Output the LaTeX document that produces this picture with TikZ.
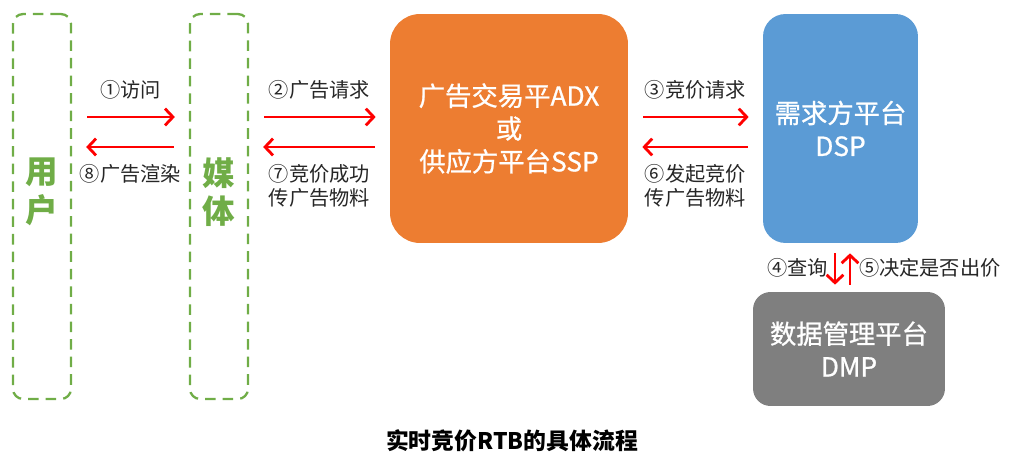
\documentclass[tikz,border=0pt]{standalone}
\usepackage{fontspec}
\setmainfont{Noto Sans CJK SC}
\newfontfamily\boxfont{Noto Sans CJK SC}[FakeBold=0.8]
\usetikzlibrary{arrows.meta}
\definecolor{partygreen}{HTML}{70AD47}
\definecolor{adxorange}{HTML}{ED7D31}
\definecolor{dspblue}{HTML}{5B9BD5}
\definecolor{dmpgray}{HTML}{7F7F7F}
\definecolor{tiptext}{HTML}{262626}
\tikzset{
    party/.style={draw=partygreen, line width=1.3pt, dash pattern=on 6pt off 4pt,
        rounded corners=0.2cm, minimum width=1.16cm, minimum height=7.7cm},
    partyname/.style={text=partygreen, align=center, font=\bfseries\fontsize{18.5}{22}\selectfont},
    platform/.style={text=white, align=center, font=\boxfont\fontsize{15}{18.7}\selectfont},
    flow/.style={red, line width=1.6pt, -{Straight Barb[length=4.5pt,width=9.5pt]}},
    hflow/.style={flow, shorten <=0.3cm, shorten >=0.28cm},
    vflow/.style={flow, shorten <=0.2cm, shorten >=0.14cm},
    rvflow/.style={flow, shorten <=0.14cm, shorten >=0.2cm},
    tip/.style={text=tiptext, align=center, font=\fontsize{11.5}{13.6}\selectfont}
}
\begin{document}
\begin{tikzpicture}[x=0.02cm, y=-0.02cm]
    \useasboundingbox (0,0) rectangle (1024,473);
    \node[party] (user) at (42,206.5) {};
    \node[party] (media) at (219,206.5) {};
    \node[partyname] (username) at (42,192) {用\\户};
    \node[partyname] (medianame) at (219,192) {媒\\体};
    \node[platform, fill=adxorange, rounded corners=0.6cm,
        minimum width=4.76cm, minimum height=4.58cm] (adx) at (509,128.5) {广告交易平ADX\\或\\供应方平台SSP};
    \node[platform, fill=dspblue, rounded corners=0.45cm,
        minimum width=3.1cm, minimum height=4.58cm] (dsp) at (840.5,128.5) {需求方平台\\DSP};
    \node[platform, fill=dmpgray, rounded corners=0.35cm,
        minimum width=3.84cm, minimum height=2.28cm] (dmp) at (849,349) {数据管理平台\\DMP};
    \coordinate (fwd) at (0,117);
    \coordinate (back) at (0,147);
    \coordinate (ask) at (835,0);
    \coordinate (answer) at (850,0);
    \draw[hflow] (user.east |- fwd) -- node[tip, above=6pt] {①访问} (media.west |- fwd);
    \draw[hflow] (media.west |- back) -- node[tip, below=6pt] {⑧广告渲染} (user.east |- back);
    \draw[hflow] (media.east |- fwd) -- node[tip, above=6pt] {②广告请求} (adx.west |- fwd);
    \draw[hflow] (adx.west |- back) -- node[tip, below=6pt] {⑦竞价成功\\传广告物料} (media.east |- back);
    \draw[hflow] (adx.east |- fwd) -- node[tip, above=6pt] {③竞价请求} (dsp.west |- fwd);
    \draw[hflow] (dsp.west |- back) -- node[tip, below=6pt] {⑥发起竞价\\传广告物料} (adx.east |- back);
    \draw[vflow] (dsp.south -| ask) -- node[tip, left=0pt] {④查询} (dmp.north -| ask);
    \draw[rvflow] (dmp.north -| answer) -- node[tip, right=1pt] {⑤决定是否出价} (dsp.south -| answer);
    \node[font=\bfseries\fontsize{13}{16}\selectfont] (title) at (512,441) {实时竞价RTB的具体流程};
\end{tikzpicture}
\end{document}
